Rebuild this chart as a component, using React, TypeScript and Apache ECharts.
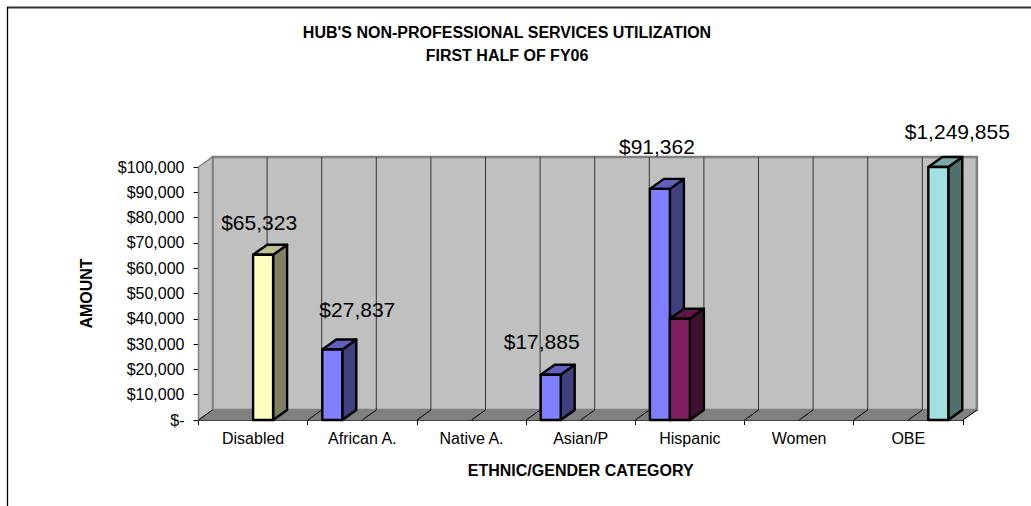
import React, { useEffect, useRef } from "react";
import * as echarts from "echarts";

const categories = ["Disabled", "African A.", "Native A.", "Asian/P", "Hispanic", "Women", "OBE"];
const minorityValues = [null, 27837, null, 17885, 91362, null, null];
const secondValues = [null, null, null, null, 40000, null, null];
const disabledValues = [65323, null, null, null, null, null, null];
const obeValues = [null, null, null, null, null, null, 1249855];
const yTicks = [0, 100000];
const titleLines = ["HUB'S NON-PROFESSIONAL SERVICES UTILIZATION", "FIRST HALF OF FY06"];

const AXIS_MAX = yTicks[1];
const DEPTH_X = 14;
const DEPTH_Y = -10;
const BAR_W = 20;
const FONT = "'Liberation Sans', Arial, sans-serif";

const money = (v: number) => "$" + v.toLocaleString("en-US");
// Hand-placed data label offsets, relative to the bar's top-left corner.
const labelOffset: Record<string, [number, number]> = {
  "Disabled": [6, -32],
  "African A.": [35, -40],
  "Asian/P": [1, -33],
  "Hispanic": [7, -42],
  "OBE": [29, -36],
};

function shade(face: string, top: string, side: string, slot: number, labelled: boolean) {
  return (params: any, api: any) => {
    const idx = api.value(0);
    const raw = api.value(1);
    const capped = Math.min(raw, AXIS_MAX);
    const base = api.coord([idx, 0]);
    const tip = api.coord([idx, capped]);
    const left = base[0] + slot * BAR_W;
    const right = left + BAR_W;
    const y = tip[1];
    const yb = base[1];
    const stroke = { stroke: "#000", lineWidth: 2.4, lineJoin: "round" };
    const off = labelOffset[categories[idx]] || [0, -30];
    const children: any[] = [
      { type: "polygon", shape: { points: [[right, y], [right + DEPTH_X, y + DEPTH_Y], [right + DEPTH_X, yb + DEPTH_Y], [right, yb]] }, style: { fill: side, ...stroke } },
      { type: "polygon", shape: { points: [[left, y], [left + DEPTH_X, y + DEPTH_Y], [right + DEPTH_X, y + DEPTH_Y], [right, y]] }, style: { fill: top, ...stroke } },
      { type: "rect", shape: { x: left, y, width: BAR_W, height: yb - y }, style: { fill: face, ...stroke } },
    ];
    if (labelled) {
      children.push({
        type: "text",
        x: left + off[0],
        y: y + off[1],
        style: { text: money(raw), fill: "#000", font: `21px ${FONT}`, align: "center", verticalAlign: "middle" },
      });
    }
    return { type: "group", children };
  };
}

function walls(params: any, api: any) {
  const c = params.coordSys;
  const x0 = c.x, y0 = c.y, x1 = c.x + c.width, y1 = c.y + c.height;
  const bx0 = x0 + DEPTH_X, bx1 = x1 + DEPTH_X, by0 = y0 + DEPTH_Y, by1 = y1 + DEPTH_Y;
  const edge = { stroke: "#808080", lineWidth: 2.5 };
  const children: any[] = [
    { type: "rect", shape: { x: bx0, y: by0, width: bx1 - bx0, height: by1 - by0 }, style: { fill: "#c0c0c0", ...edge } },
    { type: "polygon", shape: { points: [[x0, y0], [bx0, by0], [bx0, by1], [x0, y1]] }, style: { fill: "#c0c0c0", stroke: "#808080", lineWidth: 1.5 } },
    { type: "polygon", shape: { points: [[x0, y1], [bx0, by1], [bx1, by1], [x1, y1]] }, style: { fill: "#808080", stroke: "#808080", lineWidth: 1 } },
  ];
  const step = c.width / (categories.length * 2);
  for (let i = 1; i < categories.length * 2; i++) {
    const x = x0 + i * step;
    children.push({ type: "line", shape: { x1: x + DEPTH_X, y1: by0, x2: x + DEPTH_X, y2: by1 }, style: { stroke: "#333", lineWidth: 1 } });
  }
  for (let i = 0; i <= categories.length * 2; i++) {
    const x = x0 + i * step;
    children.push({ type: "line", shape: { x1: x, y1, x2: x + DEPTH_X, y2: by1 }, style: { stroke: "#000", lineWidth: 1 } });
  }
  return { type: "group", children };
}

const toSeries = (name: string, values: (number | null)[], face: string, top: string, side: string, slot: number, labelled = true) => ({
  type: "custom",
  name,
  coordinateSystem: "cartesian2d",
  renderItem: shade(face, top, side, slot, labelled),
  encode: { x: 0, y: 1 },
  clip: false,
  z: 5,
  data: values.map((v, i) => [i, v]).filter((d) => d[1] !== null),
});

export default function App() {
  const ref = useRef<HTMLDivElement>(null);
  useEffect(() => {
    const chart = echarts.init(ref.current!, undefined, { renderer: "svg" });
    chart.setOption({
      animation: false,
      backgroundColor: "#fff",
      textStyle: { fontFamily: FONT },
      title: {
        text: titleLines.join("\n"),
        left: 502,
        top: 16,
        textAlign: "center",
        textStyle: { fontFamily: FONT, fontSize: 16, fontWeight: "bold", color: "#000", lineHeight: 23 },
      },
      grid: { left: 198.5, top: 167, width: 764.4, height: 253, containLabel: false },
      xAxis: {
        type: "category",
        data: categories,
        name: "ETHNIC/GENDER CATEGORY",
        nameLocation: "middle",
        nameGap: 42,
        nameTextStyle: { fontFamily: FONT, fontSize: 16, fontWeight: "bold", color: "#000" },
        axisLine: { lineStyle: { color: "#000", width: 1 } },
        axisTick: { show: true, length: 5, alignWithLabel: false, lineStyle: { color: "#000" } },
        axisLabel: { fontFamily: FONT, fontSize: 16, color: "#000", margin: 10, interval: 0 },
        splitLine: { show: false },
      },
      yAxis: {
        type: "value",
        min: 0,
        max: AXIS_MAX,
        interval: 10000,
        name: "AMOUNT",
        nameLocation: "middle",
        nameGap: 104,
        nameRotate: 90,
        nameTextStyle: { fontFamily: FONT, fontSize: 16, fontWeight: "bold", color: "#000" },
        axisLine: { show: true, lineStyle: { color: "#333", width: 1 } },
        axisTick: { show: true, length: 5, lineStyle: { color: "#000" } },
        axisLabel: { fontFamily: FONT, fontSize: 16, color: "#000", margin: 14, formatter: (v: number) => (v === 0 ? "$-" : money(v)) },
        splitLine: { show: false },
      },
      graphic: [
        { type: "line", shape: { x1: 7, y1: 7.5, x2: 1031, y2: 7.5 }, style: { stroke: "#333", lineWidth: 2 }, silent: true },
        { type: "line", shape: { x1: 7.5, y1: 7, x2: 7.5, y2: 506 }, style: { stroke: "#000", lineWidth: 1.3 }, silent: true },
      ],
      series: [
        { type: "custom", name: "walls", coordinateSystem: "cartesian2d", renderItem: walls, encode: { x: 0, y: 1 }, clip: false, z: 1, data: [[0, 0]], silent: true },
        toSeries("Minority", minorityValues, "#8080ff", "#6060c0", "#404080", -2),
        toSeries("Second", secondValues, "#7f1f5f", "#601748", "#401030", -1, false),
        toSeries("Disabled", disabledValues, "#ffffc0", "#c0c090", "#808060", 0),
        toSeries("OBE", obeValues, "#a0e0e0", "#78a8a8", "#507070", 1),
      ],
    });
    return () => chart.dispose();
  }, []);
  return <div ref={ref} style={{ position: "fixed", left: 0, top: 0, width: 1031, height: 506 }} />;
}
